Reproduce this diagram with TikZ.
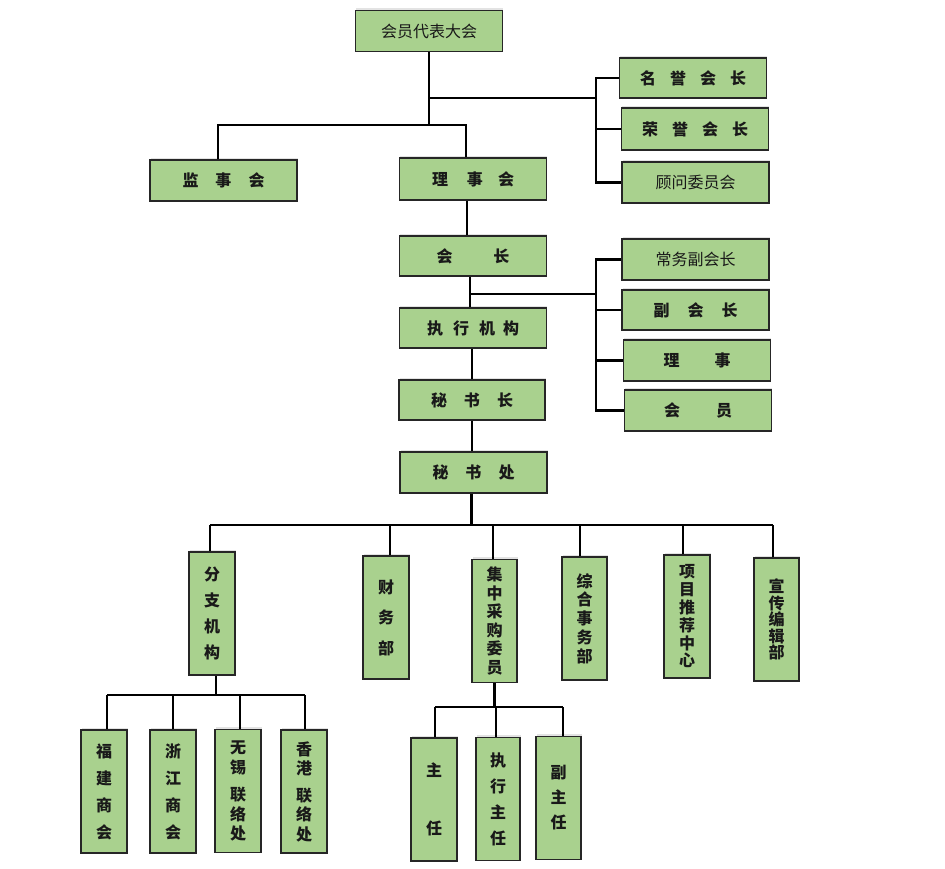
\documentclass[tikz,border=0pt]{standalone}
\usepackage{fontspec}
\newfontfamily\cjk{Noto Sans CJK SC}
\usetikzlibrary{shadows}
\definecolor{boxgreen}{RGB}{169,209,142}
\begin{document}
\begin{tikzpicture}[x=1pt,y=-1pt,
  box/.style={draw=black!85, line width=1.2pt, fill=boxgreen, inner sep=0pt, align=center,
    text=black!90,
    font=\cjk\bfseries\fontsize{16}{19}\selectfont,
    drop shadow={shadow xshift=0.5pt,shadow yshift=2.5pt,opacity=0.22}},
  reg/.style={font=\cjk\fontsize{16}{19}\selectfont},
  vs/.style={font=\cjk\bfseries\fontsize{16}{#1}\selectfont},
  hbox/.style={box, minimum width=147pt, minimum height=41pt},
  vbox/.style={box, minimum width=46pt, minimum height=123pt},
  conn/.style={line width=2.5pt, draw=black}]
\fill[white] (0,0) rectangle (945,868);
\useasboundingbox (0,0) rectangle (945,868);

% top part
\node[hbox, reg] (dh) at (429,31) {会员代表大会};
\node[hbox, minimum height=40pt] (ming) at (693,78) {名\hspace{14pt}誉\hspace{14pt}会\hspace{14pt}长};
\node[hbox, minimum height=42pt] (rong) at (695,129) {荣\hspace{14pt}誉\hspace{14pt}会\hspace{14pt}长};
\node[hbox, reg] (guwen) at (695.5,182.5) {顾问委员会};
\node[hbox] (jian) at (223.5,180.5) {监\hspace{17pt}事\hspace{17pt}会};
\node[hbox, minimum height=42pt] (lsh) at (473,179) {理\hspace{19pt}事\hspace{15pt}会};

% middle
\node[hbox, minimum height=40pt] (hz) at (473,256) {会\hspace{41pt}长};
\node[hbox, minimum height=40pt] (zx) at (473,328) {执\hspace{10pt}行\hspace{10pt}机\hspace{8pt}构};
\node[hbox, minimum width=146pt, minimum height=40pt] (msz) at (472,400) {秘\hspace{17pt}书\hspace{17pt}长};
\node[hbox] (msc) at (473.5,472.5) {秘\hspace{17pt}书\hspace{17pt}处};
\node[hbox, reg] (cw) at (695.5,259.5) {常务副会长};
\node[hbox, minimum height=40pt] (fhz) at (695.5,310) {副\hspace{18pt}会\hspace{18pt}长};
\node[hbox] (ls) at (697,360.5) {理\hspace{35pt}事};
\node[hbox] (hy) at (698,410.5) {会\hspace{36pt}员};

% bottom departments
\node[vbox, vs=25.7] (fz) at (212,613.5) {分\\支\\机\\构};
\node[vbox, vs=30.5] (cwb) at (386,617.5) {财\\务\\部};
\node[vbox, vs=18.6, minimum width=45pt] (jc) at (494.5,621) {集\\中\\采\\购\\委\\员};
\node[vbox, vs=18.75, minimum width=45pt] (zh) at (584.5,618.5) {综\\合\\事\\务\\部};
\node[vbox, vs=17.8] (xm) at (687,616.5) {项\\目\\推\\荐\\中\\心};
\node[vbox, vs=16.5, minimum width=45pt] (xc) at (776.5,619.5) {宣\\传\\编\\辑\\部};

% branches
\node[vbox, vs=27] (fj) at (104,791.5) {福\\建\\商\\会};
\node[vbox, vs=27] (zj) at (173,791.5) {浙\\江\\商\\会};
\node[vbox, vs=19.5] (wx) at (238,791) {无\\锡\\[8pt]联\\络\\处};
\node[vbox, vs=19.5] (xg) at (304,791.5) {香\\港\\[7pt]联\\络\\处};

% purchase committee
\node[vbox, vs=16] (zr) at (434,799.5) {主\\[42pt]任};
\node[vbox, vs=26, minimum width=44pt] (zxzr) at (498,799) {执\\行\\主\\任};
\node[vbox, vs=25, minimum width=45pt] (fzr) at (558.5,798) {副\\主\\任};

% connectors top
\coordinate (b1) at (0,125);
\coordinate (r1) at (596,98);
\draw[conn] (dh.south) -- (dh.south |- b1);
\draw[conn] ([xshift=-5.5pt]jian.north) -- ([xshift=-5.5pt]jian.north |- b1) -- ([xshift=-7pt]lsh.north |- b1) -- ([xshift=-7pt]lsh.north);
\draw[conn] (dh.south |- r1) -- (r1);
\draw[conn] (ming.west) -- (ming.west -| r1) -- (guwen.west -| r1) -- (guwen.west);
\draw[conn] (rong.west -| r1) -- (rong.west);

% connectors middle
\coordinate (r2) at (596,294);
\draw[conn] ([xshift=-6pt]lsh.south) -- ([xshift=-6pt]hz.north);
\draw[conn] ([xshift=-3pt]hz.south) -- ([xshift=-3pt]zx.north);
\draw[conn] ([xshift=-3pt]hz.south |- r2) -- (r2);
\draw[conn] (cw.west) -- (cw.west -| r2) -- (hy.west -| r2) -- (hy.west);
\draw[conn] (fhz.west -| r2) -- (fhz.west);
\draw[conn] (ls.west -| r2) -- (ls.west);
\draw[conn] (msz.north) -- (msz.north |- zx.south);
\draw[conn] (msz.south) -- (msz.south |- msc.north);

% connectors bottom
\coordinate (b3) at (0,525);
\draw[conn] ([xshift=-2pt]msc.south) -- ([xshift=-2pt]msc.south |- b3);
\draw[conn] ([xshift=-2pt]fz.north |- b3) -- ([xshift=-3.5pt]xc.north |- b3);
\foreach \n/\d in {fz/-2,cwb/4,jc/-1.5,zh/-4.5,xm/-4,xc/-3.5}
  \draw[conn] ([xshift=\d pt]\n.north) -- ([xshift=\d pt]\n.north |- b3);

\coordinate (b4) at (0,695);
\draw[conn] ([xshift=4pt]fz.south) -- ([xshift=4pt]fz.south |- b4);
\draw[conn] ([xshift=3pt]fj.north |- b4) -- ([xshift=1pt]xg.north |- b4);
\foreach \n/\d in {fj/3,zj/0,wx/2,xg/1}
  \draw[conn] ([xshift=\d pt]\n.north) -- ([xshift=\d pt]\n.north |- b4);

\coordinate (b5) at (0,707);
\draw[conn] (jc.south) -- (jc.south |- b5);
\draw[conn] ([xshift=1pt]zr.north |- b5) -- ([xshift=4.5pt]fzr.north |- b5);
\foreach \n/\d in {zr/1,zxzr/-2,fzr/4.5}
  \draw[conn] ([xshift=\d pt]\n.north) -- ([xshift=\d pt]\n.north |- b5);
\end{tikzpicture}
\end{document}
